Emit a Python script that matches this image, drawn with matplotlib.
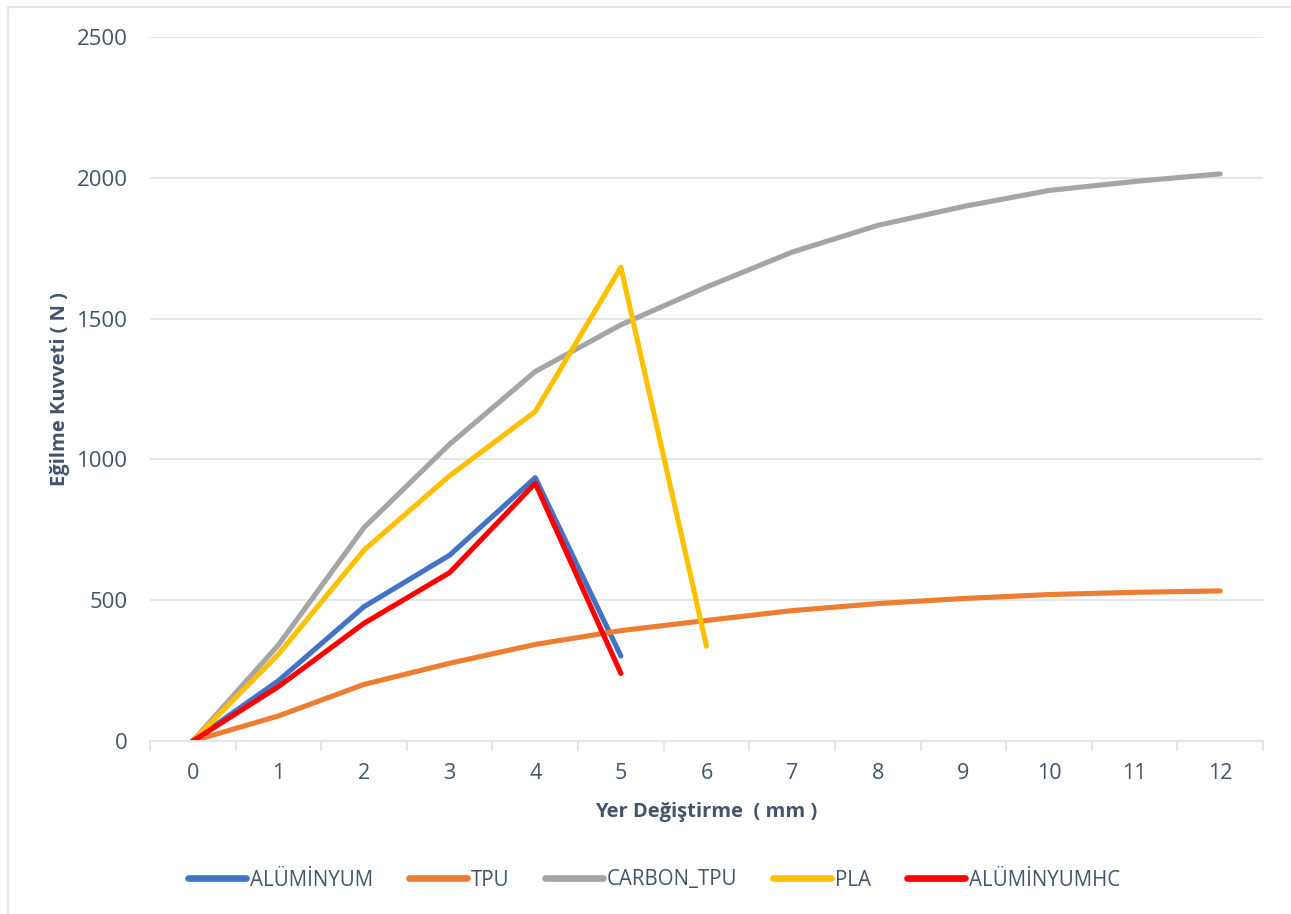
import matplotlib
matplotlib.use('Agg')
import matplotlib.pyplot as plt
from matplotlib.lines import Line2D

# displacement steps (mm) and bending force (N) per material
disp = list(range(13))
aluminyum = [0, 214, 477, 660, 935, 302]
tpu = [0, 89, 201, 276, 343, 392, 428, 463, 488, 506, 520, 528, 533]
carbon_tpu = [0, 341, 758, 1054, 1312, 1478, 1612, 1736, 1831, 1898, 1955, 1987, 2014]
pla = [0, 308, 678, 942, 1170, 1682, 337]
aluminyum_hc = [0, 193, 418, 598, 915, 240]

series = [('ALÜMİNYUM', aluminyum, '#4472C4'),
          ('TPU', tpu, '#ED7D31'),
          ('CARBON_TPU', carbon_tpu, '#A5A5A5'),
          ('PLA', pla, '#FFC000'),
          ('ALÜMİNYUMHC', aluminyum_hc, '#FF0000')]

TXT = '#44546A'
GRID = '#E1E5EC'
plt.rcParams['font.family'] = ['Open Sans', 'DejaVu Sans']

fig = plt.figure(figsize=(12.91, 9.14), dpi=100)
ax = fig.add_axes([150/1291, 1-741/914, (1263-150)/1291, (741-37)/914])

for name, vals, col in series:
    ax.plot(disp[:len(vals)], vals, color=col, lw=3.7, label=name,
            solid_capstyle='round', solid_joinstyle='round')

ax.set_xlim(-0.5, 12.5)
ax.set_ylim(0, 2500)
ax.set_yticks([0, 500, 1000, 1500, 2000, 2500])
ax.set_xticks(disp)
ax.set_xticks([i - 0.5 for i in range(14)], minor=True)
ax.grid(axis='y', color=GRID, lw=1.3)
ax.set_axisbelow(True)
for s in ['top', 'right', 'left']:
    ax.spines[s].set_visible(False)
ax.spines['bottom'].set_color(GRID)
ax.spines['bottom'].set_linewidth(1.3)
ax.tick_params(axis='y', length=0, pad=16, labelsize=16, labelcolor=TXT)
ax.tick_params(axis='x', which='major', length=0, pad=16, labelsize=15.5,
               labelcolor=TXT)
ax.tick_params(axis='x', which='minor', length=7, width=1.3, color=GRID)

ax.set_xlabel('Yer Değiştirme  ( mm )', fontsize=14.5, fontweight='bold',
              color=TXT, labelpad=13)
ax.set_ylabel('Eğilme Kuvveti ( N )', fontsize=14.5, fontweight='bold',
              color=TXT, labelpad=5)

leg = fig.legend(loc='center', bbox_to_anchor=(654/1291, 1-880/914), ncol=5,
                 frameon=False, fontsize=14.8, labelcolor=TXT,
                 handlelength=2.8, handletextpad=0.2, columnspacing=1.75)
for h in leg.legend_handles:
    h.set_linewidth(4.8)

# chart area border (left and top edges)
fig.add_artist(Line2D([8/1291, 8/1291], [0, 1-7/914], color=GRID, lw=1.5,
                      transform=fig.transFigure))
fig.add_artist(Line2D([8/1291, 1], [1-7/914, 1-7/914], color=GRID, lw=1.5,
                      transform=fig.transFigure))

fig.savefig('out.png', dpi=100)
